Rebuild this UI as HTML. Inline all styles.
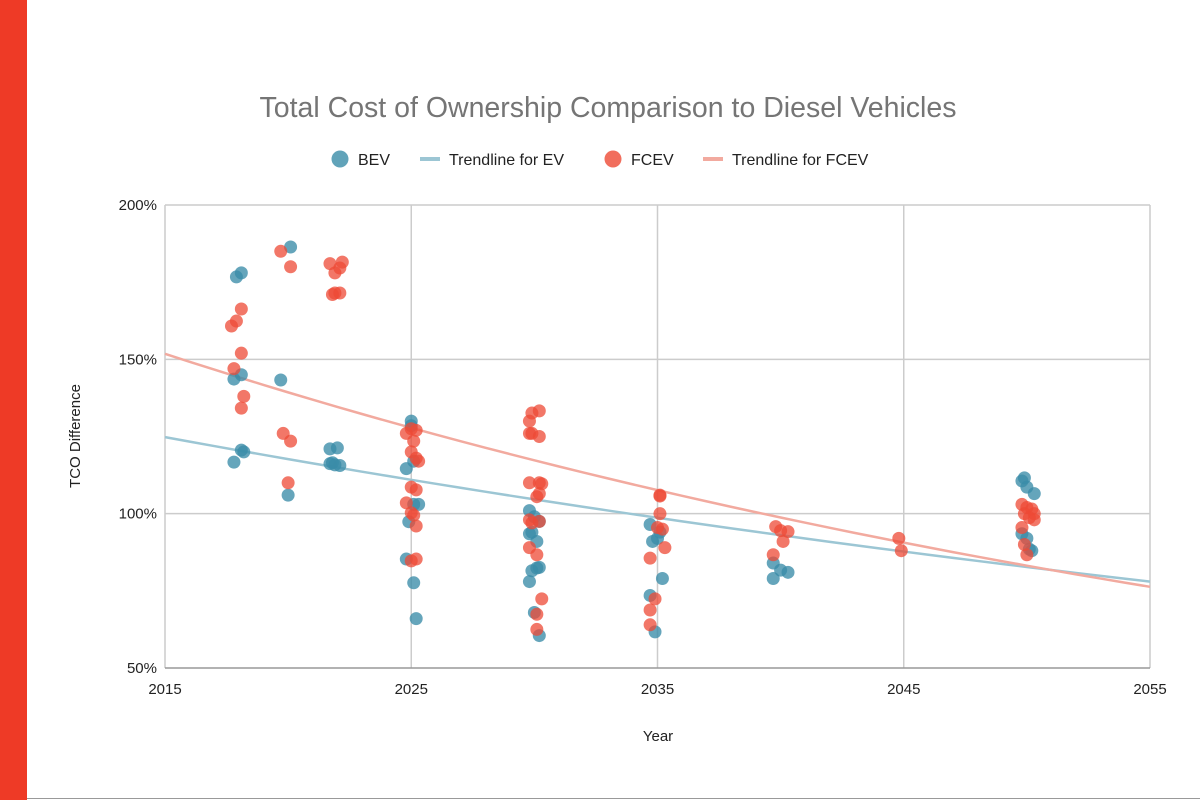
<!DOCTYPE html>
<html><head><meta charset="utf-8"><style>
body{margin:0;background:#fff;font-family:"Liberation Sans",sans-serif;}
</style></head><body>
<svg id="chart" width="1200" height="800" xmlns="http://www.w3.org/2000/svg">
<rect x="0" y="0" width="27" height="800" fill="#ee3a26"/>
<line x1="27" y1="798.5" x2="1200" y2="798.5" stroke="#999"/>
<text x="608" y="117" text-anchor="middle" font-size="28.5" fill="#757575">Total Cost of Ownership Comparison to Diesel Vehicles</text>
<g>
<circle cx="340" cy="159" r="8.5" fill="#3a8ca8" opacity="0.8"/>
<text x="358" y="165" font-size="16" fill="#222">BEV</text>
<line x1="420" y1="159" x2="440" y2="159" stroke="#9cc6d4" stroke-width="4"/>
<text x="449" y="165" font-size="16" fill="#222">Trendline for EV</text>
<circle cx="613" cy="159" r="8.5" fill="#ee4a35" opacity="0.8"/>
<text x="631" y="165" font-size="16" fill="#222">FCEV</text>
<line x1="703" y1="159" x2="723" y2="159" stroke="#f2aa9f" stroke-width="4"/>
<text x="732" y="165" font-size="16" fill="#222">Trendline for FCEV</text>
</g>
<g id="grid"></g><g id="trends"></g><g id="points"></g><g id="axes"></g>
<text x="658" y="741" text-anchor="middle" font-size="15" fill="#222">Year</text>
<text x="80" y="436" text-anchor="middle" font-size="15" fill="#222" transform="rotate(-90 80 436)">TCO Difference</text>
</svg>
<script>
const xTicks=[2015,2025,2035,2045,2055];
const yTicks=[50,100,150,200];
const bevX=[2017.8,2017.8,2018.1,2018.1,2018.2,2017.9,2018.1,2019.7,2020,2020.1,2021.7,2022,2021.8,2021.9,2022.1,2021.7,2025,2025,2024.8,2024.9,2024.8,2025.1,2025.2,2025.1,2025.3,2025.1,
2029.8,2030,2029.8,2029.9,2030.1,2030.2,2030,2030.2,2029.8,2030.1,2030.2,2029.9,
2034.7,2034.8,2035,2034.7,2034.9,2035.2,2035.1,2039.7,2039.7,2040,2040.3,2049.8,2049.9,2050,2050.3,2049.8,2050,2050.1,2050.2];
const bevY=[116.7,143.6,145,120.6,120,176.7,178,143.3,106,186.4,121,121.3,116.5,115.8,115.6,116.2,130,128.5,114.6,97.4,85.3,77.6,66,103,103,117,
101,99,78,81.5,82.4,82.6,68,60.5,93.5,91,97.5,94,
96.5,91,92,73.5,61.7,79,94,84,79,81.7,81,110.6,111.6,108.6,106.5,93.5,92,88.5,88];
const fcevX=[2017.7,2017.9,2018.1,2018.1,2017.8,2018.2,2018.1,2019.7,2020.1,2019.8,2020.1,2020,2021.7,2022.2,2022.1,2021.9,2021.8,2021.9,2022.1,
2024.8,2025,2025.2,2025.1,2025,2025.2,2025.3,2024.8,2025,2025.1,2025,2025.2,2025.2,2025,2025.2,
2029.8,2029.9,2030.2,2029.8,2029.9,2030.2,2029.8,2030.2,2030.3,2030.1,2030.2,2029.8,2029.9,2030.2,2029.8,2030.1,2030.3,2030.1,2030.1,
2035.1,2035.1,2035.1,2035,2035.2,2035.3,2034.7,2034.9,2034.7,2034.7,
2039.7,2039.8,2040,2040.3,2040.1,2044.8,2044.9,
2049.8,2050,2050.2,2049.9,2050.1,2050.3,2049.8,2049.9,2050,2050.3];
const fcevY=[160.8,162.4,166.3,152,147,138,134.2,185,180,126,123.5,110,181,181.5,179.6,178,171,171.5,171.5,
126,127.5,127,123.5,120,118,117,103.5,100.3,99.5,108.6,107.7,96,84.7,85.3,
130,132.6,133.3,126,126,125,110,110,109.7,105.5,106.5,98,97,97.5,89,86.7,72.4,67.4,62.5,
106,105.7,100,95.5,95,89,85.6,72.4,68.8,64,
86.7,95.8,94.5,94.2,91,92,88,
103,102,101.5,100,98.7,98,95.5,90,86.7,100];
const evTrend=[124.8,78];
const fcevTrend=[151.8,76.3];
const X=v=>165+(v-2015)*(985/40);
const Y=v=>668-(v-50)*(463/150);
const NS='http://www.w3.org/2000/svg';
function mk(tag,parent,attrs){const e=document.createElementNS(NS,tag);for(const k in attrs)e.setAttribute(k,attrs[k]);document.getElementById(parent).appendChild(e);return e;}
xTicks.forEach(t=>{
 const l=mk('line','grid',{x1:X(t),x2:X(t),y1:Y(200),y2:Y(50),stroke:'#ccc','stroke-width':1.5});
 
 
 const tx=mk('text','axes',{x:X(t),y:694,'text-anchor':'middle','font-size':15,fill:'#222'});tx.textContent=t;
 
 
});
yTicks.forEach(t=>{
 const l=mk('line','grid',{x1:X(2015),x2:X(2055),y1:Y(t),y2:Y(t),stroke:t===50?'#999':'#ccc','stroke-width':1.5});
 
 
 const tx=mk('text','axes',{x:157,y:Y(t)+5,'text-anchor':'end','font-size':15,fill:'#222'});tx.textContent=t+'%';
 
 
});
function trend(a,color,name){
 let d='';const r=Math.pow(a[1]/a[0],1/40);
 for(let i=0;i<=40;i++){d+=(i?'L':'M')+X(2015+i)+','+Y(a[0]*Math.pow(r,i));}
 const p=mk('path','trends',{d:d,fill:'none',stroke:color,'stroke-width':2.5});
 
 
}
trend(evTrend,'#9cc6d4','ev-trendline');
trend(fcevTrend,'#f2aa9f','fcev-trendline');
bevX.forEach((x,i)=>{const c=mk('circle','points',{cx:X(x),cy:Y(bevY[i]),r:6.5,fill:'#3a8ca8','fill-opacity':0.78});
 
 });
fcevX.forEach((x,i)=>{const c=mk('circle','points',{cx:X(x),cy:Y(fcevY[i]),r:6.5,fill:'#ee4a35','fill-opacity':0.75});
 
 });
</script>
</body></html>
